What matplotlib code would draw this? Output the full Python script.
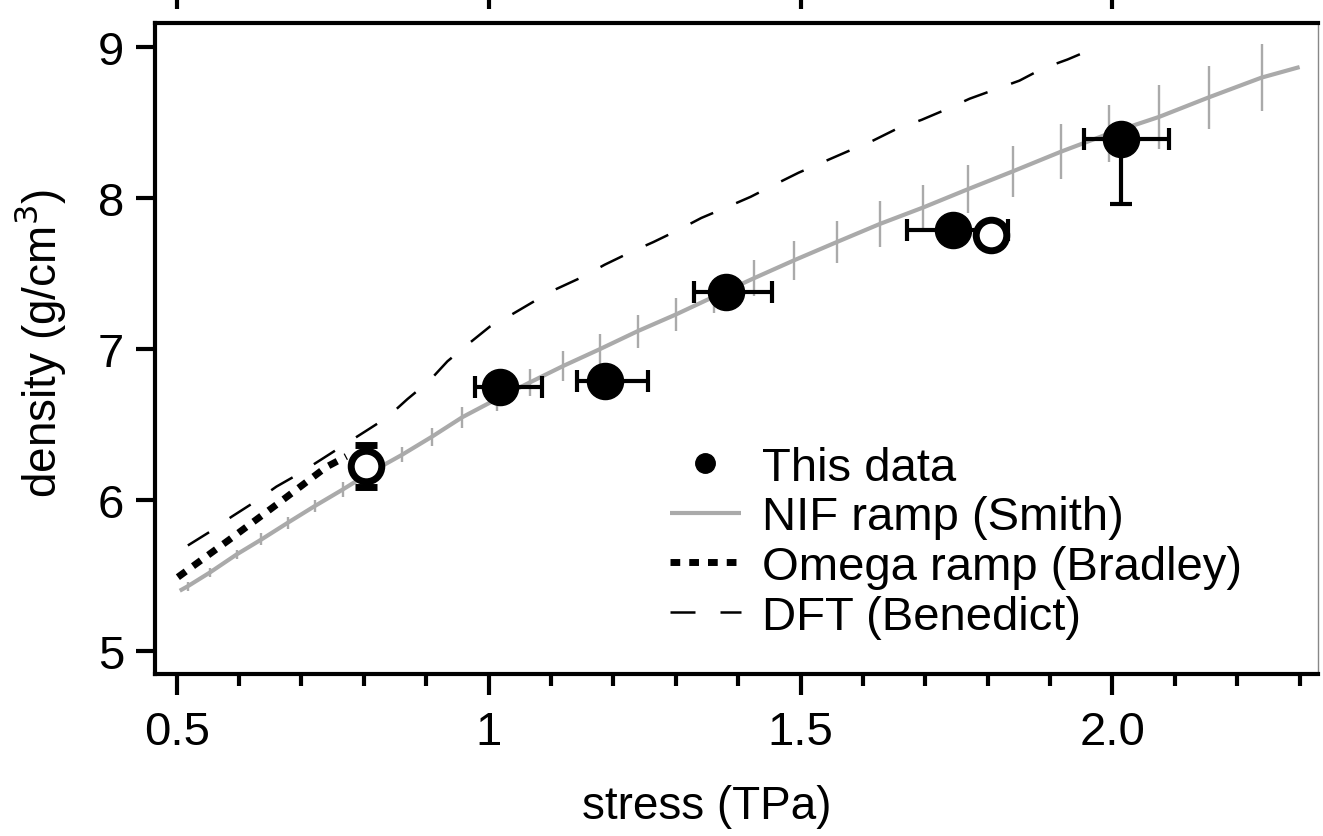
import numpy as np
import matplotlib.pyplot as plt
from matplotlib.ticker import FixedLocator, MultipleLocator

plt.rcParams['font.family'] = ['Liberation Sans', 'DejaVu Sans']

# this data, filled points
stress = [1.019, 1.186, 1.381, 1.744, 2.014]
density = [6.75, 6.79, 7.38, 7.79, 8.39]
stress_err_lo = [0.040, 0.045, 0.051, 0.073, 0.059]
stress_err_hi = [0.066, 0.069, 0.074, 0.088, 0.077]
density_err_lo = [0.0, 0.0, 0.0, 0.0, 0.43]
density_err_hi = [0.0, 0.0, 0.0, 0.0, 0.0]

# this data, open points
open_stress = [0.804, 1.806]
open_density = [6.225, 7.76]
open_density_err = [0.14, 0.0]

# NIF ramp (Smith) with error ticks
nif_stress = [0.505, 0.518, 0.553, 0.596, 0.636, 0.678, 0.721, 0.766, 0.809, 0.861, 0.909,
              0.958, 1.013, 1.066, 1.120, 1.178, 1.239, 1.300, 1.362, 1.425, 1.490,
              1.558, 1.627, 1.697, 1.768, 1.841, 1.918, 1.995, 2.075, 2.155, 2.239, 2.300]
nif_density = [5.40, 5.43, 5.52, 5.64, 5.74, 5.85, 5.96, 6.07, 6.18, 6.30, 6.42,
               6.55, 6.67, 6.78, 6.89, 7.00, 7.12, 7.23, 7.35, 7.47, 7.59,
               7.71, 7.83, 7.94, 8.06, 8.18, 8.31, 8.43, 8.54, 8.67, 8.80, 8.87]
nif_err = [0.0, 0.03, 0.03, 0.03, 0.04, 0.04, 0.04, 0.05, 0.05, 0.05, 0.06,
           0.07, 0.08, 0.09, 0.10, 0.10, 0.11, 0.11, 0.11, 0.12, 0.13,
           0.14, 0.15, 0.15, 0.16, 0.17, 0.18, 0.19, 0.21, 0.21, 0.22, 0.0]

# Omega ramp (Bradley)
omega_stress = [0.502, 0.585, 0.660, 0.740, 0.772]
omega_density = [5.49, 5.74, 5.97, 6.22, 6.29]

# DFT (Benedict)
dft_stress = [0.518, 0.553, 0.588, 0.622, 0.660, 0.694, 0.732, 0.766, 0.804, 0.838,
              0.870, 0.905, 0.934, 0.966, 1.002, 1.037, 1.074, 1.109, 1.151, 1.186,
              1.226, 1.264, 1.304, 1.341, 1.381, 1.420, 1.458, 1.497, 1.536, 1.575,
              1.615, 1.654, 1.694, 1.734, 1.771, 1.811, 1.851, 1.888, 1.928, 1.968]
dft_density = [5.70, 5.79, 5.89, 5.98, 6.09, 6.17, 6.27, 6.36, 6.46, 6.55,
               6.67, 6.79, 6.92, 7.03, 7.15, 7.23, 7.32, 7.40, 7.48, 7.56,
               7.64, 7.71, 7.79, 7.87, 7.94, 8.01, 8.09, 8.17, 8.24, 8.31,
               8.38, 8.46, 8.52, 8.59, 8.66, 8.72, 8.78, 8.86, 8.92, 8.99]

x_major = [0.5, 1.0, 1.5, 2.0]
x_major_labels = ['0.5', '1', '1.5', '2.0']
y_major = [5, 6, 7, 8, 9]

grey = '#aaaaaa'

fig = plt.figure(figsize=(13.23, 8.37), dpi=100)
ax = fig.add_axes([0.117, 0.1935, 0.879, 0.7775])

# curves
dft_line, = ax.plot(dft_stress, dft_density, color='black', lw=1.8, linestyle=(0, (10, 10)),
                    label='DFT (Benedict)', zorder=2)
ax.errorbar(nif_stress, nif_density, yerr=nif_err, fmt='none', ecolor=grey,
            elinewidth=1.7, capsize=0, zorder=2)
nif_line, = ax.plot(nif_stress, nif_density, color=grey, lw=3, label='NIF ramp (Smith)',
                    solid_capstyle='butt', zorder=2)
omega_line, = ax.plot(omega_stress, omega_density, color='black', lw=5,
                      linestyle=(0, (1.4, 1.3)), dash_capstyle='butt',
                      label='Omega ramp (Bradley)', zorder=3)

# points
ax.errorbar(stress, density,
            xerr=[stress_err_lo, stress_err_hi],
            yerr=[density_err_lo, density_err_hi],
            fmt='o', color='black', ms=26, elinewidth=3, capsize=8, capthick=3,
            zorder=4)
ax.errorbar(open_stress, open_density, yerr=open_density_err, fmt='o',
            mfc='white', mec='black', mew=5, ms=22, ecolor='black',
            elinewidth=3, capsize=8, capthick=3, zorder=5)

# legend
dot, = ax.plot([], [], 'o', color='black', ms=14, label='This data')
leg = ax.legend(handles=[dot, nif_line, omega_line, dft_line],
                loc='upper left', bbox_to_anchor=(0.443, 0.351), frameon=False,
                fontsize=34, borderpad=0, borderaxespad=0, labelspacing=0.12,
                handlelength=1.5, handletextpad=0.45)

ax.set_xlim(0.465, 2.329)
ax.set_ylim(4.848, 9.16)

ax.xaxis.set_major_locator(FixedLocator(x_major))
ax.set_xticklabels(x_major_labels)
ax.xaxis.set_minor_locator(MultipleLocator(0.1))
ax.yaxis.set_major_locator(FixedLocator(y_major))

ax.tick_params(axis='x', which='major', length=15, width=3, direction='out',
               labelsize=34, pad=11, top=False)
ax.tick_params(axis='x', which='minor', length=8.5, width=3, direction='out', top=False)
ax.tick_params(axis='y', which='major', length=14, width=3, direction='out',
               labelsize=34, pad=8, right=False)

for side in ['left', 'bottom', 'top']:
    ax.spines[side].set_linewidth(3)
ax.spines['right'].set_linewidth(1)
ax.spines['right'].set_color('#888888')

# ticks of the top axis (cropped)
top = ax.secondary_xaxis('top')
top.set_xticks(x_major, labels=['', '', '', ''])
top.tick_params(length=20, width=3, direction='out')
top.spines['top'].set_position(('outward', 10))
top.spines['top'].set_visible(False)

ax.set_xlabel('stress (TPa)', fontsize=33)
ax.xaxis.set_label_coords(0.475, -0.169)
ax.set_ylabel('density (g/cm$^3$)', fontsize=33)
ax.yaxis.set_label_coords(-0.075, 0.51)

fig.savefig('out.png', dpi=100)
